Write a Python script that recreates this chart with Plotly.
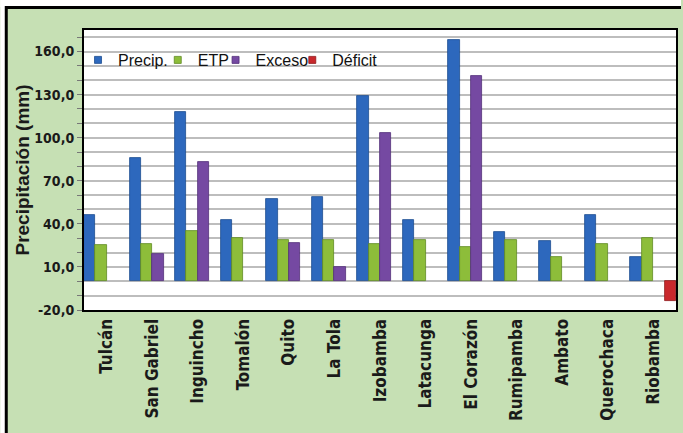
import plotly.graph_objects as go

# Monthly water balance per station (mm)
estaciones = ["Tulcán", "San Gabriel", "Inguincho", "Tomalón", "Quito", "La Tola",
              "Izobamba", "Latacunga", "El Corazón", "Rumipamba", "Ambato",
              "Querochaca", "Riobamba"]
precip = [46, 86, 118, 43, 57, 59, 129, 43, 168, 34, 28, 46, 17]
etp = [25, 26, 35, 30, 29, 29, 26, 29, 24, 29, 17, 26, 30]
exceso = [None, 19, 83, None, 27, 10, 103, None, 143, None, None, None, None]
deficit = [None, None, None, None, None, None, None, None, None, None, None, None, -14]

y_ticks = list(range(-20, 171, 10))
y_labels = [f"{v},0" if (v + 20) % 30 == 0 else "" for v in y_ticks]

W, H = 683, 433
L, R, T, B = 84, 5, 30, 123
PW, PH = W - L - R, H - T - B


def px(x):
    return (x - L) / PW


def py(y):
    return (H - B - y) / PH


series = [
    ("Precip.", precip, "#2d68bd", "#1d4c8f", 78),
    ("ETP", etp, "#8dbd3a", "#5f8a22", 158),
    ("Exceso", exceso, "#7549a2", "#53307a", 216),
    ("Déficit", deficit, "#c9282c", "#8e1a1d", 293),
]

cond = "DejaVu Sans Condensed"
legends = {}
fig = go.Figure()
for i, (name, vals, col, edge, lx) in enumerate(series):
    lg = "legend" if i == 0 else f"legend{i + 1}"
    fig.add_trace(go.Bar(
        x=estaciones, y=vals, name=name, legendgroup=name, showlegend=False,
        marker=dict(color=col, line=dict(color=edge, width=0.8)),
    ))
    # small square key for the legend
    fig.add_trace(go.Scatter(
        x=[None], y=[None], mode="markers", name=name, legendgroup=name, legend=lg,
        marker=dict(symbol="square", size=7, color=col, line=dict(color=edge, width=0.8)),
    ))
    legends[lg] = dict(orientation="h", x=px(lx), y=py(43), xanchor="left", yanchor="top",
                       bgcolor="rgba(0,0,0,0)", itemwidth=30,
                       font=dict(family="Liberation Sans", size=16, color="#111111"))

fig.update_layout(
    width=W, height=H,
    margin=dict(l=L, r=R, t=T, b=B),
    paper_bgcolor="#c6e0b4",
    plot_bgcolor="white",
    barmode="group", bargap=0.0, bargroupgap=0.0,
    font=dict(family="Liberation Sans", color="#1a1a1a"),
    xaxis=dict(
        tickangle=-90, showgrid=False, showline=True, linecolor="black", linewidth=2,
        mirror=True, ticks="",
        tickfont=dict(family=cond, size=17, color="#1a1a1a", weight="bold"),
    ),
    yaxis=dict(
        range=[-20, 175], tickmode="array", tickvals=y_ticks, ticktext=y_labels,
        showgrid=True, gridcolor="#bdbdbd", gridwidth=2,
        zeroline=True, zerolinecolor="#bdbdbd", zerolinewidth=2,
        showline=True, linecolor="black", linewidth=2, mirror=True,
        ticks="outside", ticklen=5, tickcolor="#777777",
        tickfont=dict(family=cond, size=14, color="#1a1a1a", weight="bold"),
        title=dict(text="Precipitación (mm)", standoff=0,
                   font=dict(family="Liberation Sans", size=19, color="#1a1a1a", weight="bold")),
    ),
    shapes=[
        # white strip outside the frame and the black frame edges
        dict(type="rect", xref="paper", yref="paper", x0=px(0), x1=px(W), y0=py(0), y1=py(7),
             fillcolor="white", line=dict(width=0), layer="above"),
        dict(type="rect", xref="paper", yref="paper", x0=px(0), x1=px(5), y0=py(0), y1=py(H),
             fillcolor="white", line=dict(width=0), layer="above"),
        dict(type="line", xref="paper", yref="paper", x0=px(5), x1=px(W), y0=py(7.5), y1=py(7.5),
             line=dict(color="black", width=3), layer="above"),
        dict(type="line", xref="paper", yref="paper", x0=px(6), x1=px(6), y0=py(6), y1=py(H),
             line=dict(color="black", width=3), layer="above"),
    ],
    **legends,
)

fig.write_html("out.html")
